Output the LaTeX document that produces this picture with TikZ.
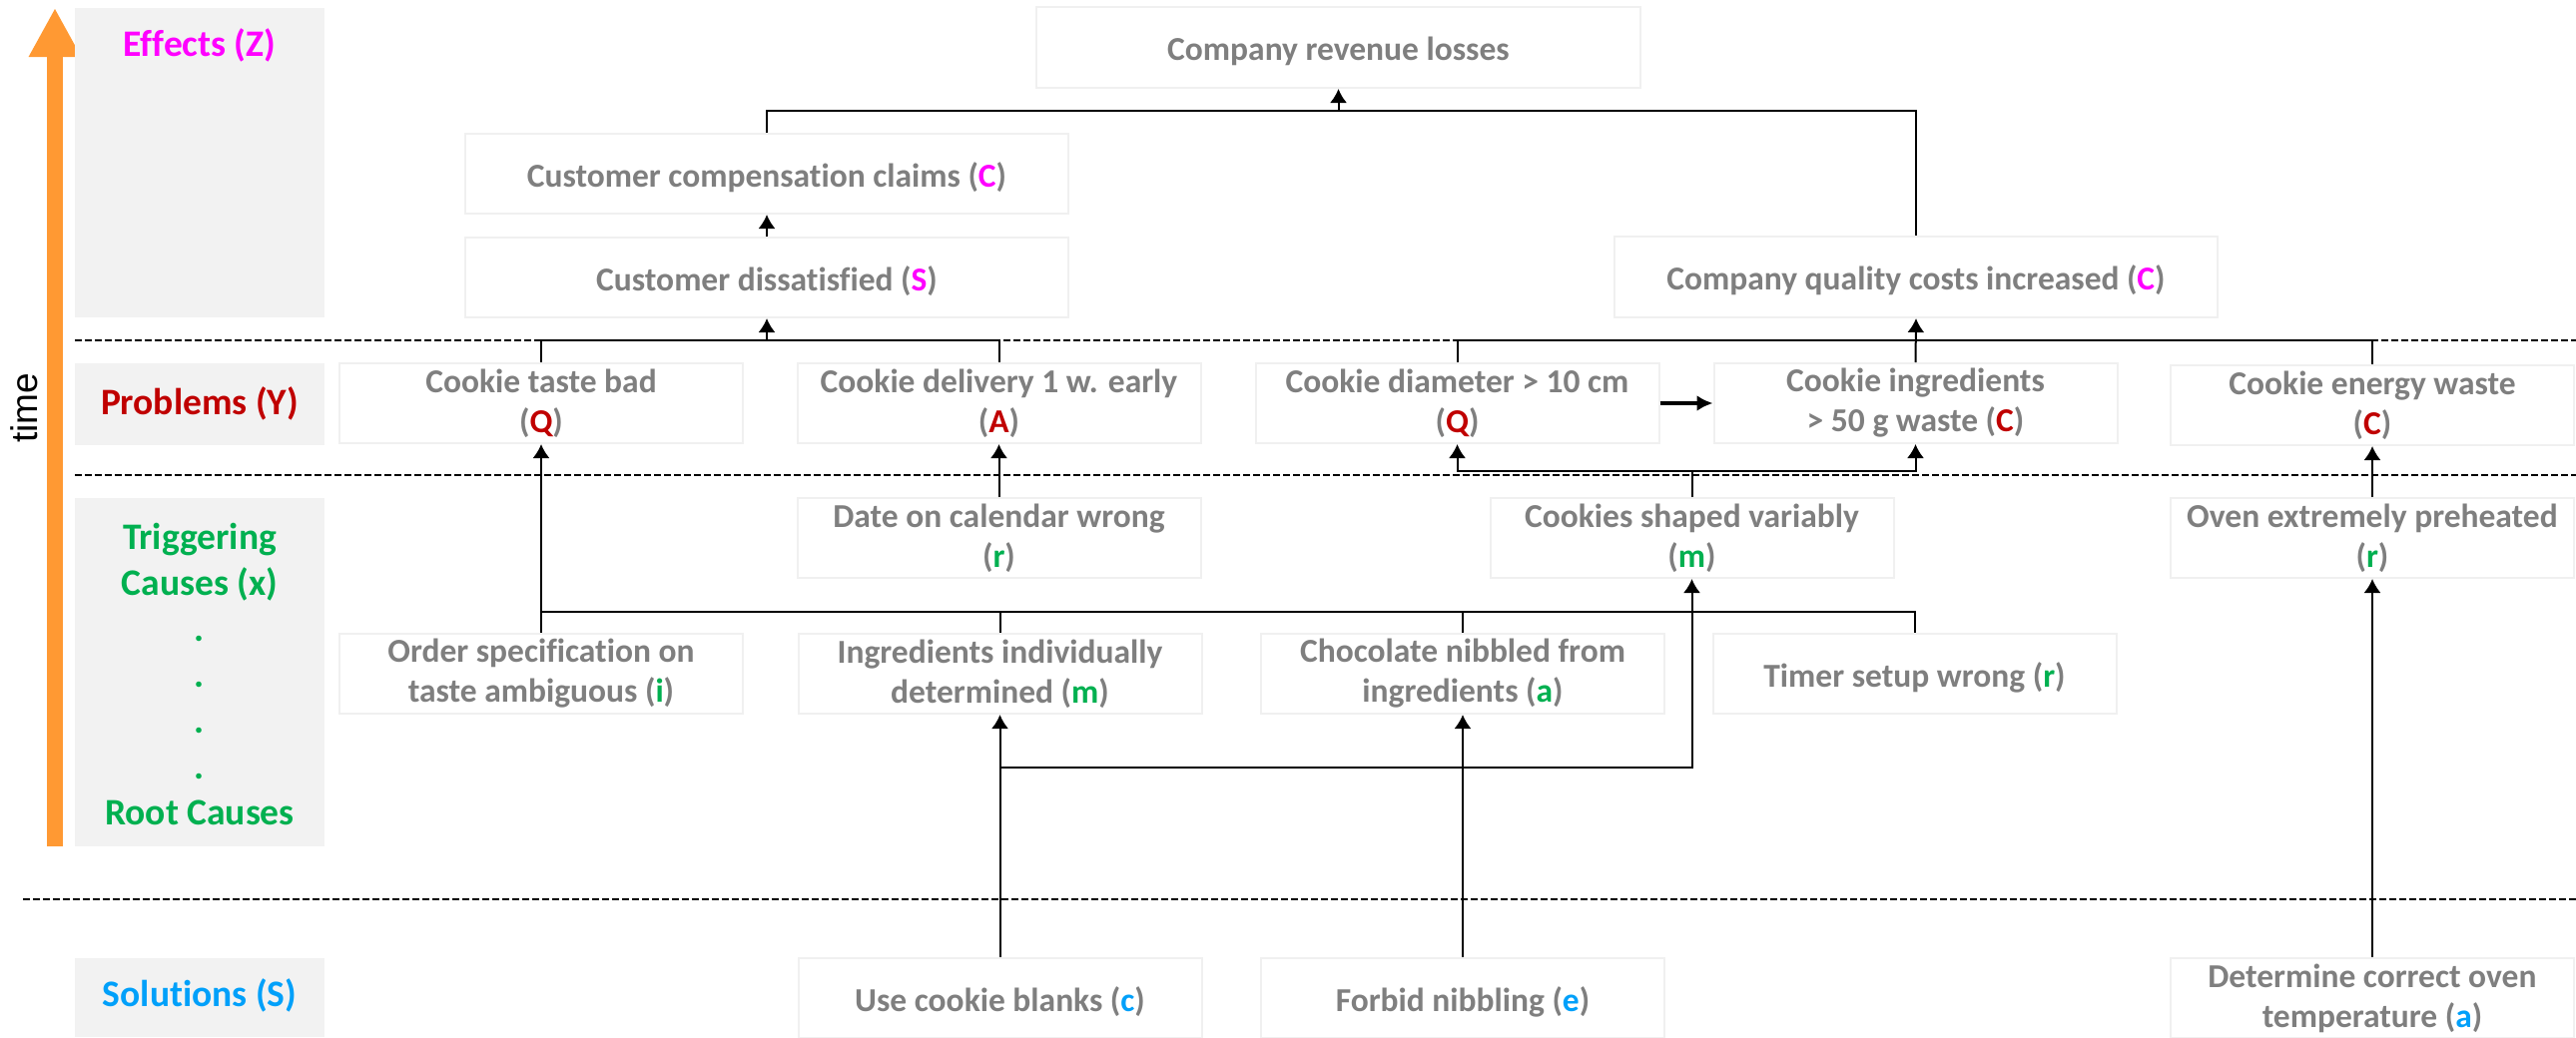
\documentclass[tikz,border=0pt]{standalone}
\usepackage{fontspec}
\setmainfont{Carlito}[Ligatures=NoCommon]
\newfontfamily\timefont{Liberation Sans}
\usetikzlibrary{arrows.meta}
\definecolor{txtgray}{HTML}{7F7F7F}
\definecolor{lblgray}{HTML}{F2F2F2}
\definecolor{boxline}{HTML}{F0F0F0}
\definecolor{cmagenta}{HTML}{FF00FF}
\definecolor{cdarkred}{HTML}{C00000}
\definecolor{cgreen}{HTML}{00B050}
\definecolor{cblue}{HTML}{00A0FA}
\definecolor{corange}{HTML}{FF9933}
\newcommand{\cmag}[1]{\textcolor{cmagenta}{#1}}
\newcommand{\cred}[1]{\textcolor{cdarkred}{#1}}
\newcommand{\cgrn}[1]{\textcolor{cgreen}{#1}}
\newcommand{\cblu}[1]{\textcolor{cblue}{#1}}
\begin{document}
\begin{tikzpicture}[x=0.5pt,y=-0.5pt,
  box/.style={draw=boxline, line width=1pt, fill=white, text=txtgray,
    font=\bfseries\fontsize{16.75}{20}\selectfont, align=center,
    minimum width=202pt, minimum height=40pt, inner sep=0pt,
    execute at begin node={\rule{0pt}{16pt}}},
  widebox/.style={box, minimum width=302pt},
  lblbox/.style={fill=lblgray, draw=none, minimum width=125pt, inner sep=0pt},
  lbltext/.style={font=\bfseries\fontsize{18.75}{23}\selectfont, align=center, inner sep=0pt},
  conn/.style={draw=black, line width=1pt},
  arr/.style={conn, -{Latex[length=7pt,width=8.5pt]}},
  sepline/.style={draw=black, line width=1.2pt, dash pattern=on 3.3pt off 1.7pt}
]
\useasboundingbox (0,0) rectangle (2580,1039);

% time axis
\draw[corange, line width=8pt, -{Triangle[length=24.5pt,width=24.5pt]}] (55,848) -- (55,8);
\node[rotate=90, font=\timefont\fontsize{18.5}{20}\selectfont, inner sep=0pt] (time) at (24,409) {time};

% label column
\node[lblbox, minimum height=155pt] (lz) at (200,163) {};
\node[lbltext, text=cmagenta] (lzt) at (200,45) {Effects (Z)};
\node[lblbox, minimum height=41pt] (ly) at (200,405) {};
\node[lbltext, text=cdarkred] (lyt) at (200,404) {Problems (Y)};
\node[lblbox, minimum height=174.5pt] (lx) at (200,673.5) {};
\node[lbltext, text=cgreen] (lxt) at (200,675) {Triggering\\Causes (x)\\.\\.\\.\\.\\Root Causes};
\node[lblbox, minimum height=39.5pt] (ls) at (200,999.5) {};
\node[lbltext, text=cblue] (lst) at (200,997) {Solutions (S)};

% separators
\draw[sepline] (75,341) -- (2580,341);
\draw[sepline] (75,476) -- (2580,476);
\draw[sepline] (23,901) -- (2580,901);

% effects
\node[widebox, minimum width=302.5pt, minimum height=40.5pt] (rev) at (1340.5,47.5) {Company revenue losses};
\node[widebox] (comp) at (768,174) {Customer compensation claims (\cmag{C})};
\node[widebox] (diss) at (768,278) {Customer dissatisfied (\cmag{S})};
\node[widebox, minimum height=40.5pt] (qual) at (1919,277.5) {Company quality costs increased (\cmag{C})};

% problems
\node[box] (taste) at (542,404) {Cookie taste bad\\(\cred{Q})};
\node[box] (deliv) at (1000.5,404) {Cookie delivery 1 w. early\\(\cred{A})};
\node[box] (diam) at (1459.5,404) {Cookie diameter > 10 cm\\(\cred{Q})};
\node[box] (ingr) at (1918.5,404) {Cookie ingredients\\> 50 g waste (\cred{C})};
\node[box] (energy) at (2376,406) {Cookie energy waste\\(\cred{C})};

% triggering causes
\node[box] (date) at (1000.5,539) {Date on calendar wrong\\(\cgrn{r})};
\node[box] (shaped) at (1694.5,539) {Cookies shaped variably\\(\cgrn{m})};
\node[box] (oven) at (2376,539) {Oven extremely preheated\\(\cgrn{r})};

% root causes
\node[box] (order) at (542,675) {Order specification on\\taste ambiguous (\cgrn{i})};
\node[box] (indiv) at (1001.5,675) {Ingredients individually\\determined (\cgrn{m})};
\node[box] (choc) at (1465,675) {Chocolate nibbled from\\ingredients (\cgrn{a})};
\node[box] (timer) at (1917.5,675) {Timer setup wrong (\cgrn{r})};

% solutions
\node[box] (blanks) at (1001.5,1000) {Use cookie blanks (\cblu{c})};
\node[box] (forbid) at (1465,1000) {Forbid nibbling (\cblu{e})};
\node[box] (detoven) at (2376,1000) {Determine correct oven\\temperature (\cblu{a})};

% junction coordinates
\coordinate (j1) at (1340.5,111);
\coordinate (j2) at (768,341);
\coordinate (j3) at (1918.5,341);
\coordinate (j4) at (1694.5,472);
\coordinate (j5) at (542,613);
\coordinate (j6) at (1001.5,769);

% effect connectors
\draw[conn] (comp.north) |- (j1) -| (qual.north);
\draw[arr] (j1) -- (rev.south);
\draw[arr] (diss.north) -- (comp.south);

% problems to effects
\draw[conn] (taste.north) |- (j2) -| (deliv.north);
\draw[arr] (j2) -- (diss.south);
\draw[conn] (diam.north) |- (j3) -| (energy.north);
\draw[arr] (ingr.north) -- (qual.south);
\draw[conn, line width=1.6pt, -{Latex[length=8pt,width=8pt]}] (diam.east) -- (ingr.west);

% triggering to problems
\draw[arr] (date.north) -- (deliv.south);
\draw[conn] (shaped.north) -- (j4);
\draw[arr] (j4) -| (diam.south);
\draw[arr] (j4) -| (ingr.south);
\draw[arr] (oven.north) -- (energy.south);

% root causes
\draw[arr] (order.north) -- (taste.south);
\draw[conn] (j5) -| (timer.north);
\draw[conn] (indiv.north) -- (indiv.north |- j5);
\draw[conn] (choc.north) -- (choc.north |- j5);

% solutions
\draw[arr] (blanks.north) -- (indiv.south);
\draw[arr] (j6) -| (shaped.south);
\draw[arr] (forbid.north) -- (choc.south);
\draw[arr] (detoven.north) -- (oven.south);
\end{tikzpicture}
\end{document}
